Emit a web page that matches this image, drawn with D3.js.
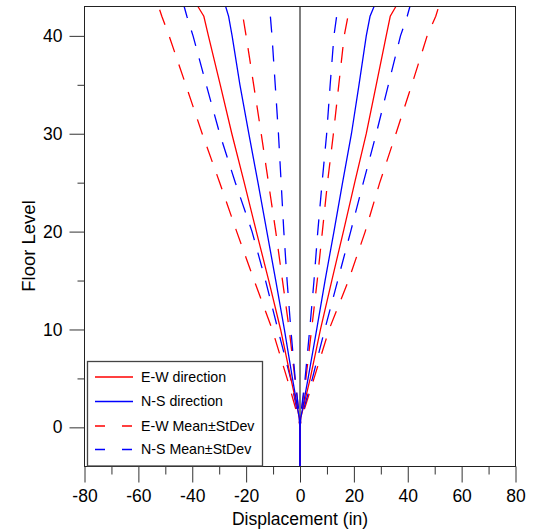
<!DOCTYPE html>
<html>
<head>
<meta charset="utf-8">
<script src="https://cdn.jsdelivr.net/npm/d3@7"></script>
<style>
  html, body { margin: 0; padding: 0; background: #fff; }
  svg { display: block; font-family: "Liberation Sans", Arial, sans-serif; }
</style>
</head>
<body>
<svg id="chart" width="535" height="532"></svg>
<script>
// ---- data ----
const floors = [-4, 0, 1, 2, 5, 10, 15, 20, 25, 30, 35, 40, 42, 43];

// E-W direction (mean), negative and positive envelopes
const ewMeanNeg = [0, 0, -0.3, -1.0, -3.4, -7.2, -11.6, -16.2, -20.7, -25.3, -29.6, -34.0, -35.7, -37.9];
const ewMeanPos = [0, 0, 0.3, 1.2, 3.8, 7.6, 11.8, 16.1, 20.3, 24.6, 28.3, 32.0, 33.5, 35.6];
// N-S direction (mean)
const nsMeanNeg = [0, 0, -0.3, -0.9, -2.8, -5.8, -9.0, -12.3, -15.6, -19.0, -22.3, -25.2, -26.5, -27.6];
const nsMeanPos = [0, 0, 0.3, 1.0, 3.0, 6.2, 9.3, 12.6, 15.8, 19.1, 21.9, 24.6, 26.0, 27.5];
// E-W Mean ± StDev
const ewNegOuter = [0, 0, -0.5, -1.7, -4.8, -10.3, -17.0, -23.5, -29.8, -36.3, -42.4, -48.6, -51.3, -52.5];
const ewNegInner = [0, 0, -0.2, -0.6, -1.9, -4.0, -6.5, -9.0, -11.7, -14.4, -17.2, -20.0, -21.2, -21.9];
const ewPosOuter = [0, 0, 0.5, 1.8, 5.2, 10.8, 18.0, 24.2, 29.6, 35.6, 41.5, 47.2, 50.4, 51.5];
const ewPosInner = [0, 0, 0.2, 0.7, 2.2, 4.3, 6.4, 8.3, 10.2, 12.4, 14.4, 16.4, 17.8, 18.6];
// N-S Mean ± StDev
const nsNegOuter = [0, 0, -0.4, -1.3, -3.5, -8.2, -12.8, -17.8, -24.0, -29.8, -34.8, -39.7, -42.0, -43.0];
const nsNegInner = [0, 0, -0.2, -0.6, -1.8, -3.4, -4.8, -6.0, -7.0, -8.0, -9.2, -10.4, -11.0, -11.4];
const nsPosOuter = [0, 0, 0.4, 1.5, 4.6, 9.2, 14.0, 18.8, 23.5, 28.3, 32.8, 37.3, 39.8, 40.8];
const nsPosInner = [0, 0, 0.2, 0.6, 1.9, 3.6, 5.2, 6.6, 8.2, 9.9, 11.2, 12.6, 13.6, 14.2];

const xTicks = [-80, -60, -40, -20, 0, 20, 40, 60, 80];
const xMinorTicks = [-70, -50, -30, -10, 10, 30, 50, 70];
const yTicks = [0, 10, 20, 30, 40];
const yMinorTicks = [5, 15, 25, 35];
const legendLabels = ["E-W direction", "N-S direction", "E-W Mean\u00B1StDev", "N-S Mean\u00B1StDev"];

// ---- chart ----
const svg = d3.select("#chart");
const pL = 84.5, pR = 515.5, pT = 6.5, pB = 466.5;
const x = d3.scaleLinear().domain([-80, 80]).range([pL, pR]);
const y = d3.scaleLinear().domain([-4, 43]).range([pB, pT]);

const RED = "#ff0000", BLUE = "#0000ff";
const DASH = "16,13";
const fmt = d => String(d);

// clip
svg.append("defs").append("clipPath").attr("id", "clip")
  .append("rect").attr("x", pL).attr("y", pT).attr("width", pR - pL).attr("height", pB - pT);

const plot = svg.append("g").attr("clip-path", "url(#clip)");

// zero line
plot.append("line")
  .attr("x1", x(0)).attr("x2", x(0)).attr("y1", y(-4)).attr("y2", y(43))
  .attr("stroke", "#000").attr("stroke-width", 1);

const line = d3.line().x(d => x(d[0])).y(d => y(d[1]));
function series(vals) { return vals.map((v, i) => [v, floors[i]]); }

const seriesDefs = [
  { vals: ewNegOuter, color: RED, dash: DASH },
  { vals: ewNegInner, color: RED, dash: DASH },
  { vals: ewPosOuter, color: RED, dash: DASH },
  { vals: ewPosInner, color: RED, dash: DASH },
  { vals: nsNegOuter, color: BLUE, dash: DASH },
  { vals: nsNegInner, color: BLUE, dash: DASH },
  { vals: nsPosOuter, color: BLUE, dash: DASH },
  { vals: nsPosInner, color: BLUE, dash: DASH },
  { vals: ewMeanNeg, color: RED, dash: null },
  { vals: ewMeanPos, color: RED, dash: null },
  { vals: nsMeanNeg, color: BLUE, dash: null },
  { vals: nsMeanPos, color: BLUE, dash: null }
];

plot.selectAll("path.series").data(seriesDefs).enter().append("path")
  .attr("class", "series")
  .attr("d", d => line(series(d.vals)))
  .attr("fill", "none")
  .attr("stroke", d => d.color)
  .attr("stroke-width", 1.3)
  .attr("stroke-dasharray", d => d.dash);

// frame
svg.append("rect").attr("x", pL).attr("y", pT).attr("width", pR - pL).attr("height", pB - pT)
  .attr("fill", "none").attr("stroke", "#222").attr("stroke-width", 1);

// x axis
const xAxis = d3.axisBottom(x).tickValues(xTicks).tickSize(16).tickSizeOuter(0).tickPadding(7)
  .tickFormat(fmt);
const gx = svg.append("g").attr("transform", `translate(0,${pB})`).call(xAxis);
gx.select(".domain").remove();
gx.selectAll(".tick line").attr("stroke", "#333");
gx.selectAll(".tick text").attr("font-size", 17.5).attr("fill", "#000")
  .attr("font-family", "'Liberation Sans', Arial, sans-serif");
const gxm = svg.append("g").attr("transform", `translate(0,${pB})`)
  .call(d3.axisBottom(x).tickValues(xMinorTicks).tickSize(8).tickFormat(""));
gxm.select(".domain").remove();
gxm.selectAll(".tick line").attr("stroke", "#333");

// y axis
const yAxis = d3.axisLeft(y).tickValues(yTicks).tickSize(15).tickSizeOuter(0).tickPadding(7)
  .tickFormat(fmt);
const gy = svg.append("g").attr("transform", `translate(${pL},0)`).call(yAxis);
gy.select(".domain").remove();
gy.selectAll(".tick line").attr("stroke", "#333");
gy.selectAll(".tick text").attr("font-size", 17.5).attr("fill", "#000")
  .attr("font-family", "'Liberation Sans', Arial, sans-serif");
const gym = svg.append("g").attr("transform", `translate(${pL},0)`)
  .call(d3.axisLeft(y).tickValues(yMinorTicks).tickSize(7).tickFormat(""));
gym.select(".domain").remove();
gym.selectAll(".tick line").attr("stroke", "#333");

// axis titles
svg.append("text").attr("x", x(0)).attr("y", 525).attr("text-anchor", "middle")
  .attr("font-size", 17.5).text("Displacement (in)");
svg.append("text").attr("transform", `translate(35,246) rotate(-90)`).attr("text-anchor", "middle")
  .attr("font-size", 18.5).text("Floor Level");

// legend
const lg = svg.append("g");
lg.append("rect").attr("x", 87.5).attr("y", 361.5).attr("width", 175).attr("height", 104.5)
  .attr("fill", "#fff").attr("stroke", "#444").attr("stroke-width", 1.3);
const legendStyles = [
  { color: RED, dash: null },
  { color: BLUE, dash: null },
  { color: RED, dash: "10,17" },
  { color: BLUE, dash: "10,17" }
];
const rowY = [377, 401.5, 426, 449.5];
legendLabels.forEach((lab, i) => {
  lg.append("line").attr("x1", 95).attr("x2", 133).attr("y1", rowY[i]).attr("y2", rowY[i])
    .attr("stroke", legendStyles[i].color).attr("stroke-width", 1.3)
    .attr("stroke-dasharray", legendStyles[i].dash);
  lg.append("text").attr("x", 141).attr("y", rowY[i]).attr("dy", "0.35em")
    .attr("font-size", 14.2).text(lab);
});
</script>
</body>
</html>
